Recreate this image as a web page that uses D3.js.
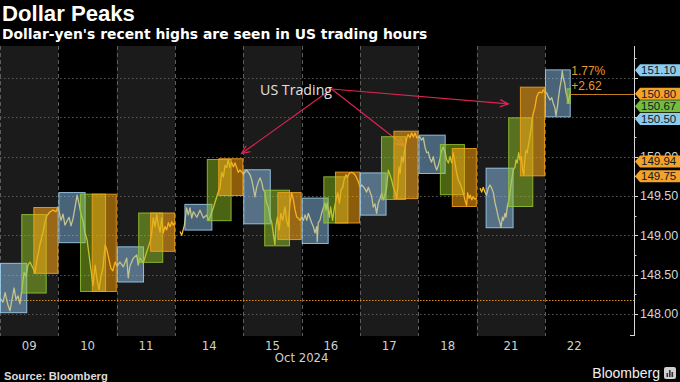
<!DOCTYPE html>
<html><head><meta charset="utf-8">
<script src="https://cdn.jsdelivr.net/npm/d3@7"></script>
<style>html,body{margin:0;padding:0;background:#000;} svg{display:block;}</style>
</head><body>
<svg id="chart" width="680" height="382"></svg>
<script>
// ---------------- DATA ----------------
const dayLabels = ["09","10","11","14","15","16","17","18","21","22"];
const dayStart  = [0, 24, 48, 72, 100, 124, 148, 172, 196, 224];   // trading hours
const dayLength = [24, 24, 24, 28, 24, 24, 24, 24, 28, 24];
const axisEndHour = 260.6;

// USD/JPY price path (hour, price); null = weekend gap
const priceHours = [
 0.0,1.2,2.1,3.3,4.1,4.9,5.8,6.6,7.4,8.2,9.0,9.9,10.7,11.5,12.3,13.6,14.4,15.2,16.4,17.7,18.5,19.3,20.6,21.8,23.0,23.8,
 24.3,25.1,25.9,26.7,27.5,28.4,29.2,30.0,30.8,31.7,32.5,33.3,34.1,34.9,35.8,36.6,37.4,38.2,39.1,39.9,40.7,41.5,42.3,43.2,44.0,44.8,45.6,46.4,47.3,48.1,
 49.3,50.7,52.1,52.7,53.4,54.8,56.2,56.8,57.5,58.9,60.3,61.7,62.4,63.0,63.7,64.4,65.1,65.8,66.5,67.1,67.8,68.5,69.2,69.9,70.6,71.2,72.0,
 73.0,
 74.0,74.7,75.8,76.7,77.4,78.1,78.8,79.5,80.9,82.2,83.6,85.0,85.6,86.3,87.7,88.4,89.7,90.4,91.1,91.8,92.5,93.2,93.8,94.5,95.2,95.9,96.6,97.3,97.9,98.6,100.0,
 101.4,102.8,103.5,104.1,104.8,105.5,106.2,106.9,107.6,108.2,108.9,109.6,110.3,111.0,111.7,112.3,113.0,113.4,114.0,114.8,115.4,116.2,117.1,117.8,118.5,119.2,119.9,120.6,121.3,122.0,122.6,123.3,124.0,
 124.7,125.4,126.1,126.7,127.4,128.1,128.8,129.5,130.2,130.4,130.8,131.5,132.2,132.9,133.6,134.0,134.5,135.4,135.9,136.7,137.3,138.1,138.8,139.5,140.2,140.9,141.4,142.2,142.8,143.6,144.6,145.2,145.9,146.6,147.3,148.0,
 148.7,149.6,150.7,151.4,152.1,152.8,153.4,154.1,154.8,155.5,156.2,156.9,157.5,158.2,158.9,159.6,160.3,161.0,161.7,162.4,163.1,163.5,164.0,164.5,165.1,165.8,166.2,166.8,167.3,167.8,168.5,169.2,169.9,170.6,171.3,171.9,
 172.6,173.3,174.0,174.7,175.4,176.0,176.7,177.4,178.1,178.8,179.5,180.2,180.9,181.5,182.2,182.9,183.6,184.3,185.0,185.7,186.3,187.0,187.7,188.4,189.1,189.8,190.4,191.1,191.8,192.2,192.8,193.3,193.9,194.5,195.2,195.9,
 196.6,
 197.3,198.0,198.6,199.3,200.0,200.7,201.4,202.1,202.8,203.5,204.2,204.8,205.5,205.9,206.5,206.9,207.6,208.0,208.5,209.2,209.9,210.3,211.0,211.7,212.1,212.6,213.2,213.7,214.3,214.8,215.3,215.7,216.2,216.7,217.3,217.8,218.4,218.8,219.2,219.9,220.6,221.3,222.0,222.7,223.3,224.0,
 224.7,225.4,226.1,226.8,227.4,228.1,228.5,229.1,229.6,230.2,230.7,231.1,231.5,232.1,232.6,233.2,233.6,234.0,234.4
];
const priceValues = [
 148.20,148.15,148.27,148.11,148.04,148.18,148.33,148.18,148.23,148.13,148.31,148.53,148.48,148.62,148.66,148.58,148.52,148.69,148.88,149.04,149.17,149.25,149.30,149.32,149.30,149.36,
 149.30,149.19,149.27,149.13,149.18,149.23,149.12,149.21,149.35,149.51,149.40,149.27,149.19,149.04,148.94,148.75,148.56,148.36,148.62,148.43,148.31,148.48,148.58,148.88,148.81,148.69,148.58,148.55,148.66,148.61,
 148.66,148.60,148.71,148.46,148.61,148.71,148.75,148.62,148.71,148.65,148.79,148.92,149.04,149.22,149.11,149.26,149.13,149.04,149.22,149.03,149.11,149.07,149.16,149.11,149.17,149.13,149.16,
 null,
 149.05,149.00,149.13,149.35,149.26,149.35,149.22,149.30,149.23,149.32,149.22,149.26,149.19,149.23,149.35,149.42,149.55,149.60,149.80,149.74,149.89,149.86,149.96,149.86,149.93,149.87,149.92,149.86,149.80,149.83,149.78,
 149.83,149.77,149.70,149.61,149.49,149.61,149.68,149.73,149.67,149.58,149.55,149.41,149.36,149.23,149.16,149.03,148.88,149.11,149.23,149.07,149.28,149.19,149.36,149.19,149.11,149.41,149.54,149.45,149.32,149.23,149.22,149.19,149.23,
 149.19,149.26,149.19,149.28,149.22,149.16,149.11,149.03,149.11,148.92,149.16,149.19,149.28,149.35,149.41,149.32,149.41,149.23,149.36,149.19,149.32,149.45,149.54,149.41,149.58,149.61,149.70,149.77,149.74,149.79,149.80,149.79,149.77,149.73,149.68,149.61,
 149.64,149.61,149.55,149.61,149.55,149.49,149.36,149.40,149.28,149.41,149.47,149.54,149.45,149.51,149.60,149.83,149.77,149.70,149.61,149.55,149.47,149.61,149.87,149.79,150.00,149.93,150.06,150.17,150.25,150.28,150.24,150.30,150.25,150.30,150.24,150.25,
 150.25,150.21,150.24,150.12,150.05,150.06,149.98,149.93,150.00,149.89,149.83,149.89,149.98,150.08,150.12,150.06,149.96,149.92,150.00,149.92,150.05,149.92,149.79,149.70,149.66,149.60,149.54,149.45,149.38,149.54,149.47,149.51,149.45,149.49,149.46,149.47,
 null,
 149.60,149.55,149.61,149.55,149.51,149.60,149.64,149.60,149.54,149.41,149.32,149.23,149.16,149.10,149.23,149.19,149.28,149.23,149.36,149.45,149.61,149.70,149.83,149.87,149.96,149.92,150.05,149.96,150.00,149.83,149.77,149.96,150.08,150.05,150.17,150.25,150.38,150.49,150.55,150.63,150.76,150.81,150.82,150.81,150.85,150.82,
 150.81,150.76,150.72,150.75,150.68,150.62,150.52,150.63,150.76,150.89,150.97,151.09,151.00,150.94,150.82,150.75,150.69,150.76,150.80
];

// Trading-session boxes: A = Asia, E = Europe, U = US
const boxType  = ["A","E","U", "A","E","U", "A","E","U", "A","E","U", "A","E","U", "A","E","U", "A","E","U", "A","E","U", "A","E","U", "A","E"];
const boxStart = [0,8.75,13.7, 24,32.9,37.7, 48,56.8,61.7, 75.8,85,89.7, 100,108.6,114, 124,132.9,137.7, 148,156.6,161.7, 172,180.8,185.7, 199.6,208.9,213.7, 224,232.9];
const boxEnd   = [11.2,19.2,24, 35.2,43.6,48, 59.2,67.1,72, 87.3,95.2,100, 111.3,119.2,124, 135.1,143.2,148, 158.9,166.9,172, 183.2,191.1,196, 211.1,219.2,224, 234.6,234.6];
const boxHigh  = [148.65,149.27,149.36, 149.55,149.53,149.53, 148.86,149.29,149.29, 149.40,149.97,149.98, 149.84,149.58,149.55, 149.48,149.75,149.81, 149.80,150.26,150.33, 150.28,150.16,150.11, 149.86,150.50,150.89, 151.11,150.87];
const boxLow   = [148.01,148.26,148.51, 148.90,148.28,148.28, 148.40,148.65,148.79, 149.06,149.18,149.50, 149.14,148.86,148.94, 148.89,149.15,149.15, 149.25,149.45,149.46, 149.78,149.51,149.36, 149.09,149.36,149.75, 150.50,150.67];

const referencePrice = 148.18;
const lastPrice = 150.80;
const changePct = "1.77%";
const changeAbs = "+2.62";

const yTickValues  = [148, 148.25, 148.5, 148.75, 149, 149.25, 149.5, 149.75, 150, 150.25, 150.5, 150.75, 151, 151.25];
const yTickLabels  = [148, 148.5, 149, 149.5, 150];
const yGridValues  = [148, 148.5, 149, 149.5, 150, 150.5, 151];

const badgeValues = [151.10, 150.80, 150.67, 150.50, 149.94, 149.75];
const badgeTypes  = ["A", "U", "E", "A", "U", "U"];

// annotation (hour, price)
const noteText = "US Trading";
const noteAnchor = [106.9, 150.78];
const arrowFrom = [136.3, 150.86];
const arrowTargets = [[99.3, 150.04], [166.2, 150.14], [208.9, 150.67]];

// ---------------- LAYOUT ----------------
const W = 680, H = 382;
const plot = {left: 0, right: 634, top: 46, bottom: 336};
const svg = d3.select("#chart");

const x = d3.scaleLinear().domain([0, axisEndHour]).range([plot.left, plot.right]);
const y = d3.scaleLinear().domain([147.72, 151.407]).range([plot.bottom, plot.top]);

const fill = {A: "rgba(145,200,240,0.50)", E: "rgba(150,200,40,0.50)", U: "rgba(255,168,20,0.55)"};
const edge = {A: "rgba(160,210,245,0.85)", E: "rgba(150,200,50,0.85)", U: "rgba(245,165,30,0.85)"};
const badgeFill = {A: "#8ccbee", E: "#74bd3c", U: "#f4a32a"};

svg.append("rect").attr("width", W).attr("height", H).attr("fill", "#000");

svg.append("defs").append("clipPath").attr("id", "clip")
  .append("rect").attr("x", plot.left).attr("y", plot.top)
  .attr("width", plot.right - plot.left).attr("height", plot.bottom - plot.top);

const g = svg.append("g").attr("clip-path", "url(#clip)");

// day bands
g.selectAll("rect.band").data(dayLabels).join("rect")
  .attr("class", "band")
  .attr("x", (d, i) => x(dayStart[i]))
  .attr("width", (d, i) => x(dayStart[i] + dayLength[i]) - x(dayStart[i]))
  .attr("y", plot.top).attr("height", plot.bottom - plot.top)
  .attr("fill", (d, i) => i % 2 === 0 ? "#1b1b1b" : "#000");

// horizontal grid
g.selectAll("line.hgrid").data(yGridValues).join("line")
  .attr("x1", plot.left).attr("x2", plot.right)
  .attr("y1", d => Math.round(y(d)) + 0.5).attr("y2", d => Math.round(y(d)) + 0.5)
  .attr("stroke", "#5a5a5a").attr("stroke-width", 1).attr("stroke-dasharray", "1.5,2.5");

// day separators
g.selectAll("line.vsep").data(dayStart).join("line")
  .attr("x1", d => Math.round(x(d)) + 0.5).attr("x2", d => Math.round(x(d)) + 0.5)
  .attr("y1", plot.top).attr("y2", plot.bottom)
  .attr("stroke", "#5c5c5c").attr("stroke-width", 1).attr("stroke-dasharray", "4,3");

// reference line
g.append("line")
  .attr("x1", plot.left).attr("x2", plot.right)
  .attr("y1", Math.round(y(referencePrice)) + 0.5).attr("y2", Math.round(y(referencePrice)) + 0.5)
  .attr("stroke", "#d98a1e").attr("stroke-width", 1).attr("stroke-dasharray", "1.5,1.5");

// annotation arrows (under boxes)
const ax0 = x(arrowFrom[0]), ay0 = y(arrowFrom[1]);
arrowTargets.forEach(t => {
  const tx = x(t[0]), ty = y(t[1]);
  const ang = Math.atan2(ty - ay0, tx - ax0);
  const L = 9, spread = 0.42;
  g.append("line").attr("x1", ax0).attr("y1", ay0).attr("x2", tx).attr("y2", ty)
    .attr("stroke", "#dc2450").attr("stroke-width", 1.2);
  g.append("path")
    .attr("d", `M${tx - L*Math.cos(ang - spread)},${ty - L*Math.sin(ang - spread)}L${tx},${ty}L${tx - L*Math.cos(ang + spread)},${ty - L*Math.sin(ang + spread)}`)
    .attr("fill", "none").attr("stroke", "#dc2450").attr("stroke-width", 1.3);
});

// price line
const pts = priceHours.map((h, i) => ({h, v: priceValues[i]}));
g.append("path").datum(pts)
  .attr("d", d3.line().defined(d => d.v != null).x(d => x(d.h)).y(d => y(d.v)))
  .attr("fill", "none").attr("stroke", "#f6bd2c").attr("stroke-width", 1.3)
  .attr("stroke-linejoin", "round");

// session boxes
g.selectAll("rect.box").data(boxType).join("rect")
  .attr("x", (d, i) => x(boxStart[i]) + 0.5)
  .attr("width", (d, i) => x(boxEnd[i]) - x(boxStart[i]) - 1)
  .attr("y", (d, i) => y(boxHigh[i]) + 0.5)
  .attr("height", (d, i) => y(boxLow[i]) - y(boxHigh[i]) - 1)
  .attr("fill", d => fill[d]).attr("stroke", d => edge[d]).attr("stroke-width", 1);

// last price line
const lastH = priceHours[priceHours.length - 1];
g.append("line")
  .attr("x1", x(lastH)).attr("x2", plot.right)
  .attr("y1", Math.round(y(lastPrice)) + 0.5).attr("y2", Math.round(y(lastPrice)) + 0.5)
  .attr("stroke", "#c27d1c").attr("stroke-width", 1.2);

function fitWidth(sel, target) {
  const w = sel.node().getComputedTextLength();
  const fs = parseFloat(sel.attr("font-size"));
  sel.attr("font-size", fs * target / w);
}

// note text
const nt = svg.append("text").attr("x", x(noteAnchor[0])).attr("y", y(noteAnchor[1]))
  .attr("font-family", "'Open Sans','Noto Sans',sans-serif").attr("font-size", 13)
  .attr("fill", "#e2e2e2").text(noteText);
fitWidth(nt, 72);

// change annotation
svg.append("text").attr("x", x(lastH) + 1).attr("y", y(lastPrice) - 18.5)
  .attr("font-family", "'Liberation Sans',Arial,sans-serif").attr("font-size", 12)
  .attr("fill", "#e59a2e").text(changePct);
svg.append("text").attr("x", x(lastH) + 1).attr("y", y(lastPrice) - 4)
  .attr("font-family", "'Liberation Sans',Arial,sans-serif").attr("font-size", 12)
  .attr("fill", "#e59a2e").text(changeAbs);

// right axis
const ax = svg.append("g");
ax.append("line").attr("x1", plot.right + 0.5).attr("x2", plot.right + 0.5)
  .attr("y1", plot.top).attr("y2", plot.bottom).attr("stroke", "#d8d8d8");
ax.append("line").attr("x1", plot.right - 4).attr("x2", plot.right + 0.5)
  .attr("y1", plot.bottom - 0.5).attr("y2", plot.bottom - 0.5).attr("stroke", "#d8d8d8");
ax.selectAll("line.tick").data(yTickValues).join("line")
  .attr("x1", plot.right).attr("x2", d => plot.right + (d % 0.5 === 0 ? 4 : 2.5))
  .attr("y1", d => Math.round(y(d)) + 0.5).attr("y2", d => Math.round(y(d)) + 0.5)
  .attr("stroke", "#d8d8d8");
ax.selectAll("text.tl").data(yTickLabels).join("text")
  .attr("x", plot.right + 6).attr("y", d => y(d) + 4.3)
  .attr("font-family", "'Liberation Sans',Arial,sans-serif").attr("font-size", 12.5)
  .attr("fill", "#d4d4d4").text(d => d3.format(".2f")(d));

// badges (de-overlapped vertically)
const badgeY = [];
badgeValues.forEach((v, i) => {
  let yy = y(v);
  if (i > 0 && yy < badgeY[i - 1] + 12.6) yy = badgeY[i - 1] + 12.6;
  badgeY.push(yy);
});
const bg = ax.selectAll("g.badge").data(badgeValues).join("g")
  .attr("transform", (d, i) => `translate(${plot.right + 1},${badgeY[i]})`);
bg.append("path").attr("d", "M0,0L5,-6L50,-6L50,6L5,6Z")
  .attr("fill", (d, i) => badgeFill[badgeTypes[i]]);
bg.append("text").attr("x", 6).attr("y", 4)
  .attr("font-family", "'Liberation Sans',Arial,sans-serif").attr("font-size", 11.5)
  .attr("fill", "#0e1a24").text(d => d3.format(".2f")(d));

// x labels
svg.selectAll("text.xl").data(dayLabels).join("text")
  .attr("x", (d, i) => x(dayStart[i] + dayLength[i] / 2)).attr("y", 350)
  .attr("text-anchor", "middle")
  .attr("font-family", "'Liberation Sans Narrow','DejaVu Sans Condensed',sans-serif").attr("font-size", 13)
  .attr("fill", "#d0d0d0").text(d => d);
svg.append("text").attr("x", x(dayStart[5])).attr("y", 362)
  .attr("text-anchor", "middle")
  .attr("font-family", "'Liberation Sans Narrow','DejaVu Sans Condensed',sans-serif").attr("font-size", 13)
  .attr("fill", "#d0d0d0").text("Oct 2024");

// titles
const t1 = svg.append("text").attr("x", 2).attr("y", 21)
  .attr("font-family", "'Liberation Sans',Arial,sans-serif").attr("font-weight", "bold")
  .attr("font-size", 21).attr("fill", "#fff").text("Dollar Peaks");
fitWidth(t1, 133);
const t2 = svg.append("text").attr("x", 2).attr("y", 39)
  .attr("font-family", "'DejaVu Sans',sans-serif").attr("font-weight", "bold")
  .attr("font-size", 14).attr("fill", "#fff").text("Dollar-yen's recent highs are seen in US trading hours");
fitWidth(t2, 426);

const src = svg.append("text").attr("x", 4).attr("y", 380)
  .attr("font-family", "'Liberation Sans',Arial,sans-serif").attr("font-weight", "bold")
  .attr("font-size", 11).attr("fill", "#dcdcdc").text("Source: Bloomberg");
fitWidth(src, 104);

// Bloomberg logo
svg.append("text").attr("x", 660).attr("y", 378).attr("text-anchor", "end")
  .attr("font-family", "'Liberation Sans',Arial,sans-serif").attr("font-size", 14)
  .attr("fill", "#f0f0f0").text("Bloomberg");
svg.append("rect").attr("x", 664).attr("y", 367).attr("width", 12).attr("height", 12)
  .attr("rx", 2).attr("fill", "#cfcfcf");
[[666.5, 4], [669, 7], [671.5, 5]].forEach(b => {
  svg.append("rect").attr("x", b[0]).attr("y", 377 - b[1]).attr("width", 1.6).attr("height", b[1]).attr("fill", "#333");
});
</script>
</body></html>
